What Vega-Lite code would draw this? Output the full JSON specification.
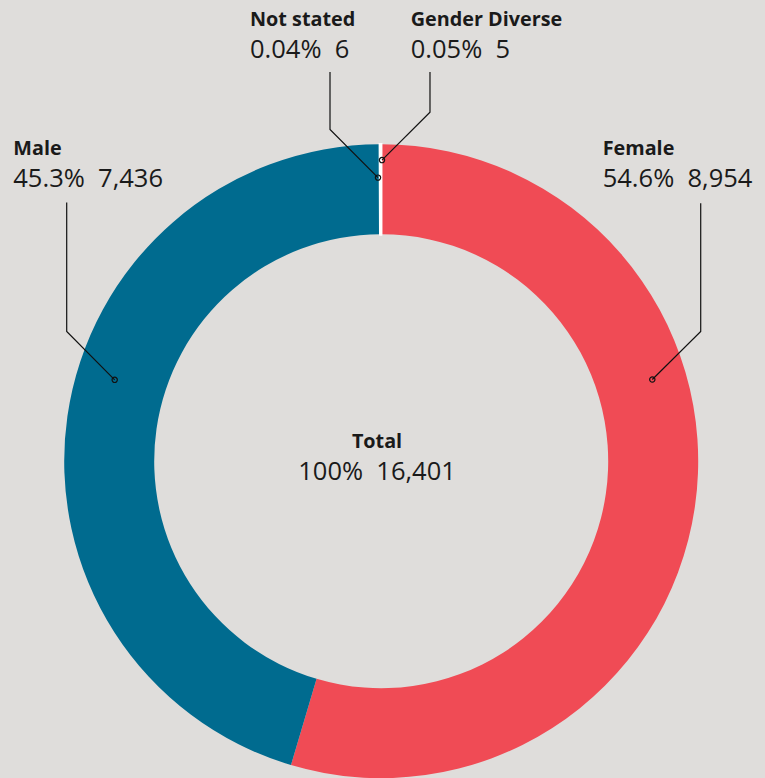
{
  "$schema": "https://vega.github.io/schema/vega-lite/v6.json",
  "width": 765,
  "height": 778,
  "autosize": {"type": "fit", "contains": "padding"},
  "padding": 0,
  "background": "#dfdddb",
  "config": {"view": {"stroke": null}, "font": "Open Sans"},
  "datasets": {
    "gender": [
      {"gender": "Female", "count": 8954, "pct": "54.6%", "rank": 1},
      {"gender": "Male", "count": 7436, "pct": "45.3%", "rank": 2},
      {"gender": "Not stated", "count": 6, "pct": "0.04%", "rank": 3},
      {"gender": "Gender Diverse", "count": 5, "pct": "0.05%", "rank": 4}
    ],
    "anchors": [
      {"gender": "Not stated", "lx": -0.4139, "ly": 1.3785},
      {"gender": "Gender Diverse", "lx": 0.0931, "ly": 1.3785},
      {"gender": "Male", "lx": -1.1606, "ly": 0.9685},
      {"gender": "Female", "lx": 0.6987, "ly": 0.9685}
    ],
    "leaders": [
      {"gender": "Not stated", "step": 1, "x": -0.1615, "y": 1.2325},
      {"gender": "Not stated", "step": 2, "x": -0.1615, "y": 1.0505},
      {"gender": "Not stated", "step": 3, "x": -0.0101, "y": 0.8981},
      {"gender": "Gender Diverse", "step": 1, "x": 0.1539, "y": 1.2325},
      {"gender": "Gender Diverse", "step": 2, "x": 0.1539, "y": 1.105},
      {"gender": "Gender Diverse", "step": 3, "x": 0.0025, "y": 0.9536},
      {"gender": "Male", "step": 1, "x": -0.9921, "y": 0.8192},
      {"gender": "Male", "step": 2, "x": -0.9921, "y": 0.411},
      {"gender": "Male", "step": 3, "x": -0.8407, "y": 0.2577},
      {"gender": "Female", "step": 1, "x": 1.0079, "y": 0.817},
      {"gender": "Female", "step": 2, "x": 1.0079, "y": 0.411},
      {"gender": "Female", "step": 3, "x": 0.8552, "y": 0.2587}
    ]
  },
  "layer": [
    {
      "data": {"name": "gender"},
      "mark": {"type": "arc", "outerRadius": 317, "innerRadius": 227, "stroke": "white"},
      "encoding": {
        "x": {"datum": 0, "type": "quantitative", "scale": {"domain": [-1.2025, 1.2107], "nice": false, "zero": false}, "axis": null},
        "y": {"datum": 0, "type": "quantitative", "scale": {"domain": [-0.9937, 1.4606], "nice": false, "zero": false}, "axis": null},
        "theta": {"field": "count", "type": "quantitative", "stack": true},
        "order": {"field": "rank", "type": "quantitative"},
        "color": {
          "field": "gender",
          "type": "nominal",
          "scale": {"domain": ["Female", "Male", "Not stated", "Gender Diverse"], "range": ["#f04b55", "#006b8f", "#ffffff", "#ffffff"]},
          "legend": null
        },
        "strokeWidth": {"condition": {"test": "datum.count < 100", "value": 2.5}, "value": 0}
      }
    },
    {
      "data": {"name": "leaders"},
      "mark": {"type": "line", "color": "#111111", "strokeWidth": 1.2},
      "encoding": {
        "x": {"field": "x", "type": "quantitative", "scale": {"domain": [-1.2025, 1.2107], "nice": false, "zero": false}, "axis": null},
        "y": {"field": "y", "type": "quantitative", "scale": {"domain": [-0.9937, 1.4606], "nice": false, "zero": false}, "axis": null},
        "detail": {"field": "gender", "type": "nominal"},
        "order": {"field": "step", "type": "quantitative"}
      }
    },
    {
      "data": {"name": "leaders"},
      "transform": [{"filter": "datum.step == 3"}],
      "mark": {"type": "point", "shape": "circle", "filled": false, "stroke": "#111111", "strokeWidth": 1.2, "size": 28, "opacity": 1},
      "encoding": {
        "x": {"field": "x", "type": "quantitative"},
        "y": {"field": "y", "type": "quantitative"}
      }
    },
    {
      "data": {"name": "gender"},
      "transform": [{"lookup": "gender", "from": {"data": {"name": "anchors"}, "key": "gender", "fields": ["lx", "ly"]}}],
      "mark": {"type": "text", "align": "left", "baseline": "alphabetic", "fontSize": 19.8, "fontWeight": "bold", "color": "#1a1a1a"},
      "encoding": {
        "x": {"field": "lx", "type": "quantitative"},
        "y": {"field": "ly", "type": "quantitative"},
        "text": {"field": "gender", "type": "nominal"}
      }
    },
    {
      "data": {"name": "gender"},
      "transform": [
        {"lookup": "gender", "from": {"data": {"name": "anchors"}, "key": "gender", "fields": ["lx", "ly"]}},
        {"calculate": "datum.pct + '\u00a0\u00a0' + format(datum.count, ',')", "as": "valueLabel"}
      ],
      "mark": {"type": "text", "align": "left", "baseline": "alphabetic", "dy": 32, "fontSize": 25.5, "fontWeight": 400, "color": "#1a1a1a"},
      "encoding": {
        "x": {"field": "lx", "type": "quantitative"},
        "y": {"field": "ly", "type": "quantitative"},
        "text": {"field": "valueLabel", "type": "nominal"}
      }
    },
    {
      "data": {"name": "gender"},
      "transform": [{"aggregate": [{"op": "sum", "field": "count", "as": "total"}]}],
      "mark": {"type": "text", "align": "center", "baseline": "alphabetic", "fontSize": 19.8, "fontWeight": "bold", "color": "#1a1a1a"},
      "encoding": {
        "x": {"datum": -0.0132, "type": "quantitative"},
        "y": {"datum": 0.041, "type": "quantitative"},
        "text": {"value": "Total"}
      }
    },
    {
      "data": {"name": "gender"},
      "transform": [
        {"aggregate": [{"op": "sum", "field": "count", "as": "total"}]},
        {"calculate": "'100%\u00a0\u00a0' + format(datum.total, ',')", "as": "valueLabel"}
      ],
      "mark": {"type": "text", "align": "center", "baseline": "alphabetic", "dy": 32, "fontSize": 25.5, "fontWeight": 400, "color": "#1a1a1a"},
      "encoding": {
        "x": {"datum": -0.0132, "type": "quantitative"},
        "y": {"datum": 0.041, "type": "quantitative"},
        "text": {"field": "valueLabel", "type": "nominal"}
      }
    }
  ]
}
